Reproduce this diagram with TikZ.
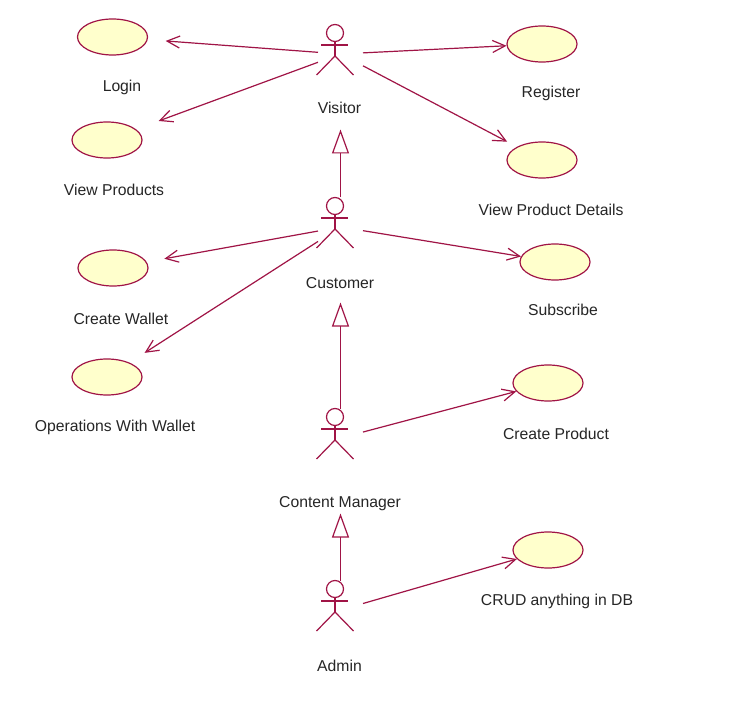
\documentclass[tikz,border=0pt]{standalone}
\usepackage{fontspec}
\setmainfont{Liberation Sans}
\usetikzlibrary{calc,arrows.meta,shapes.geometric}
\definecolor{umlred}{RGB}{160,20,70}
\definecolor{ucfill}{RGB}{255,255,204}
\def\stickman(#1){%
	\draw[uml] ($(#1)+(-5.5,-21)$) circle (8.5);
	\draw[uml] ($(#1)+(-19.5,-9)$) -- ($(#1)+(7.5,-9)$);
	\draw[uml] ($(#1)+(-5.5,-12.5)$) -- ($(#1)+(-5.5,2)$);
	\draw[uml] ($(#1)+(-24,21)$) -- ($(#1)+(-5.5,2)$) -- ($(#1)+(13,21)$);
}

\begin{document}
\begin{tikzpicture}[x=0.75pt, y=-0.75pt,
	uml/.style={draw=umlred, line width=0.9pt},
	actor/.style={rectangle, minimum width=33.75pt, minimum height=44.25pt, inner sep=0pt, outer sep=0pt},
	usecase/.style={ellipse, uml, fill=ucfill, minimum width=52.5pt, minimum height=27pt, inner sep=0pt},
	caption/.style={font=\fontsize{11.8}{14}\selectfont, text=black!85, inner sep=0pt},
	assoc/.style={uml, -{Straight Barb[length=9.5pt,width=9pt]}},
	gen/.style={uml, -{Triangle[open,length=18pt,width=12.75pt]}}]
		%%%%% START %%%%%
		
		\fill[white] (0, 0) rectangle (731, 702);
		\useasboundingbox (0, 0) rectangle (731, 702);
		
		% actors
		\node[actor] (visitor) at (340.5, 54) {};
		\node[actor] (customer) at (340.5, 227) {};
		\node[actor] (manager) at (340.5, 438) {};
		\node[actor] (admin) at (340.5, 610) {};
		\stickman(visitor)
		\stickman(customer)
		\stickman(manager)
		\stickman(admin)
		
		\node[caption] (visitorname) at (339.5, 108) {Visitor};
		\node[caption] (customername) at (340, 283) {Customer};
		\node[caption] (managername) at (340, 504) {Content Manager};
		\node[caption] (adminname) at (339.5, 666) {Admin};
		
		% use cases, left
		\node[usecase] (login) at (112.5, 37) {};
		\node[caption] (logintext) at (122, 87) {Login};
		\node[usecase] (viewproducts) at (107, 140) {};
		\node[caption] (viewproductstext) at (114, 190) {View Products};
		\node[usecase] (createwallet) at (113, 268) {};
		\node[caption] (createwallettext) at (121, 319) {Create Wallet};
		\node[usecase] (walletops) at (107, 377) {};
		\node[caption] (walletopstext) at (115, 427) {Operations With Wallet};
		
		% use cases, right
		\node[usecase] (register) at (542, 44) {};
		\node[caption] (registertext) at (551, 93) {Register};
		\node[usecase] (details) at (542, 160) {};
		\node[caption] (detailstext) at (551, 210) {View Product Details};
		\node[usecase] (subscribe) at (555, 262) {};
		\node[caption] (subscribetext) at (563, 310) {Subscribe};
		\node[usecase] (createproduct) at (548, 383) {};
		\node[caption] (createproducttext) at (556, 434) {Create Product};
		\node[usecase] (crud) at (548, 550) {};
		\node[caption] (crudtext) at (557, 601) {CRUD anything in DB};
		
		% associations
		\draw[assoc, shorten >=13.5pt] (visitor) -- (login);
		\draw[assoc, shorten >=18pt] (visitor) -- (viewproducts);
		\draw[assoc] (visitor) -- (register);
		\draw[assoc, shorten >=8.25pt] (visitor) -- (details);
		\draw[assoc, shorten >=13.5pt] (customer) -- (createwallet);
		\draw[assoc, shorten >=13.5pt] (customer) -- (walletops);
		\draw[assoc] (customer) -- (subscribe);
		\draw[assoc] (manager) -- (createproduct);
		\draw[assoc] (admin) -- (crud);
		
		% generalizations
		\draw[gen] (customer.north) -- ($(visitor.south)+(0, 46)$);
		\draw[gen] (manager.north) -- ($(customer.south)+(0, 46)$);
		\draw[gen] (admin.north) -- ($(manager.south)+(0, 46)$);
		
		%%%%% END %%%%%
\end{tikzpicture}
\end{document}
